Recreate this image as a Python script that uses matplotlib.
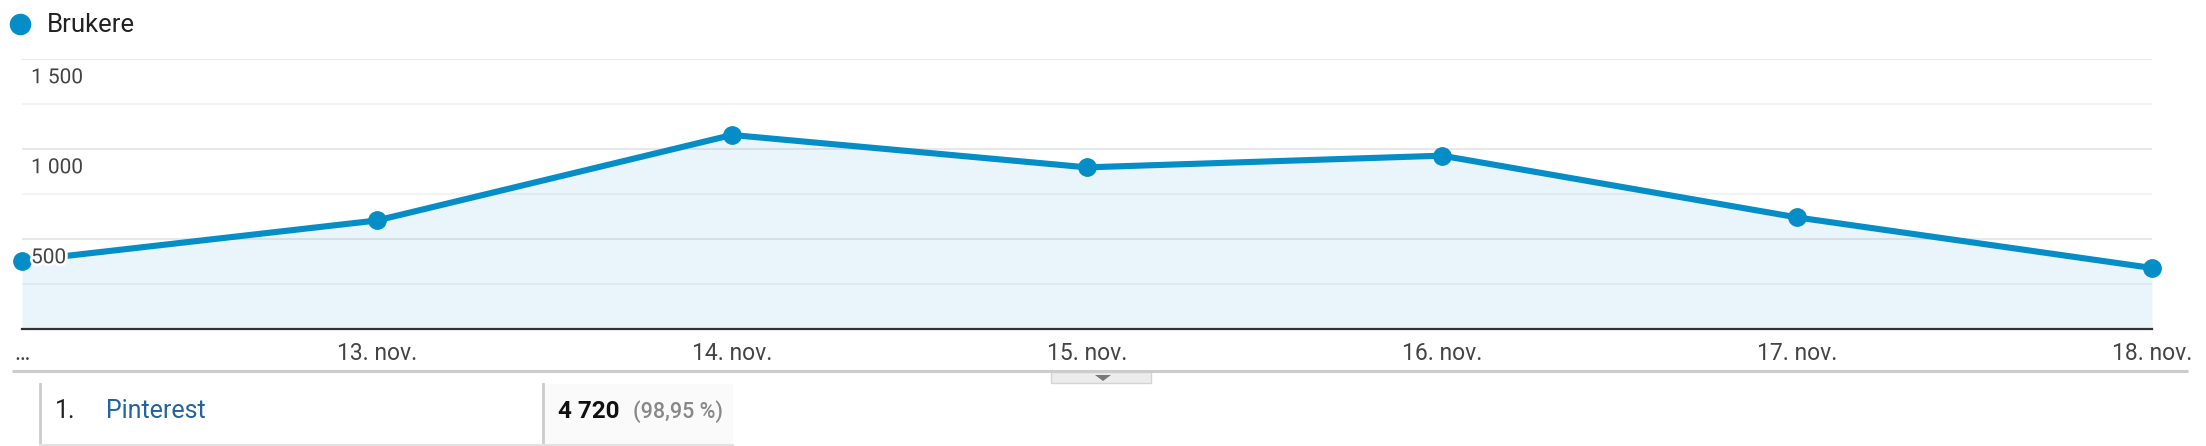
import matplotlib
matplotlib.use("Agg")
import matplotlib.pyplot as plt
from matplotlib.lines import Line2D
from matplotlib.patches import Rectangle, Polygon
import matplotlib.patheffects as pe

# ---- data ----
dates = ["…", "13. nov.", "14. nov.", "15. nov.", "16. nov.", "17. nov.", "18. nov."]
users = [378, 603, 1078, 898, 963, 620, 339]
series_name = "Brukere"
ytick_values = [500, 1000, 1500]
ytick_labels = ["500", "1 000", "1 500"]
minor_grid = [250, 750, 1250]
table_rank = "1."
table_source = "Pinterest"
table_value = "4 720"
table_share = "(98,95 %)"

W, H = 2206, 446
DPI = 100
plt.rcParams['font.family'] = ['Roboto', 'DejaVu Sans']

fig = plt.figure(figsize=(W / DPI, H / DPI), dpi=DPI)

# overlay axes in pixel coords for decorations
ov = fig.add_axes([0, 0, 1, 1], zorder=0)
ov.set_xlim(0, W)
ov.set_ylim(H, 0)
ov.axis('off')

# main chart axes
x0, x1 = 22, 2152
y_top, y_base = 59, 329
ax = fig.add_axes([x0 / W, 1 - y_base / H, (x1 - x0) / W, (y_base - y_top) / H], zorder=2)
ax.patch.set_alpha(0)

xs = list(range(len(dates)))
blue = "#058DC7"

ax.set_xlim(0, len(dates) - 1)
ax.set_ylim(0, 1500)

for v in minor_grid:
    ax.axhline(v, color="#f1f1f1", lw=1.2, zorder=0)
for v in ytick_values:
    ax.axhline(v, color="#e4e4e4", lw=1.2, zorder=0)

ax.fill_between(xs, users, 0, color=blue, alpha=0.085, lw=0, zorder=1)
ax.plot(xs, users, color=blue, lw=4.4, zorder=3, solid_capstyle='round',
        solid_joinstyle='round', clip_on=False)
ax.plot(xs, users, 'o', color=blue, ms=12.5, zorder=4, clip_on=False)

for v, lab in zip(ytick_values, ytick_labels):
    ax.annotate(lab, xy=(0, v), xytext=(6.5, -13.5), textcoords='offset points',
                ha='left', va='center', fontsize=15, color="#444444", zorder=5,
                path_effects=[pe.withStroke(linewidth=4, foreground='white')])

ax.set_yticks([])
ax.set_xticks(xs)
ax.set_xticklabels(dates, fontsize=16.5, color="#444444")
ax.tick_params(axis='x', length=0, pad=9)
for s in ['top', 'left', 'right']:
    ax.spines[s].set_visible(False)
ax.spines['bottom'].set_color('#333333')
ax.spines['bottom'].set_linewidth(1.6)

# legend
fig.add_artist(Line2D([20 / W], [1 - 24 / H], marker='o', color=blue, ms=14.5,
                      lw=0, transform=fig.transFigure))
fig.text(47 / W, 1 - 25 / H, series_name, fontsize=18.5, color="#222222",
         ha='left', va='center')

# grey separator below x labels
ov.plot([12, 2188], [371, 371], color="#cccccc", lw=2.2, solid_capstyle='butt')
# small tab with triangle
ov.add_patch(Rectangle((1051, 372), 100, 11, facecolor="#ececec", edgecolor="#d4d4d4", lw=1))
ov.add_patch(Polygon([[1095, 375], [1111, 375], [1103, 381]], closed=True,
                     facecolor="#777777", edgecolor='none'))

# table row
ov.add_patch(Rectangle((543, 384), 190, 61, facecolor="#fafafa", edgecolor='none'))
ov.plot([40, 40], [384, 446], color="#cccccc", lw=2)
ov.plot([543, 543], [384, 446], color="#cccccc", lw=2)
ov.plot([40, 733], [445, 445], color="#e2e2e2", lw=1.5)

ov.text(55, 411, table_rank, fontsize=18, color="#222222", ha='left', va='center')
ov.text(106, 411, table_source, fontsize=18, color="#23639e", ha='left', va='center')
ov.text(558, 411, table_value, fontsize=17.5, fontweight='bold', color="#111111",
        ha='left', va='center')
ov.text(633, 412, table_share, fontsize=15.5, fontweight='medium', color="#888888",
        ha='left', va='center')

fig.savefig("out.png", dpi=DPI)
